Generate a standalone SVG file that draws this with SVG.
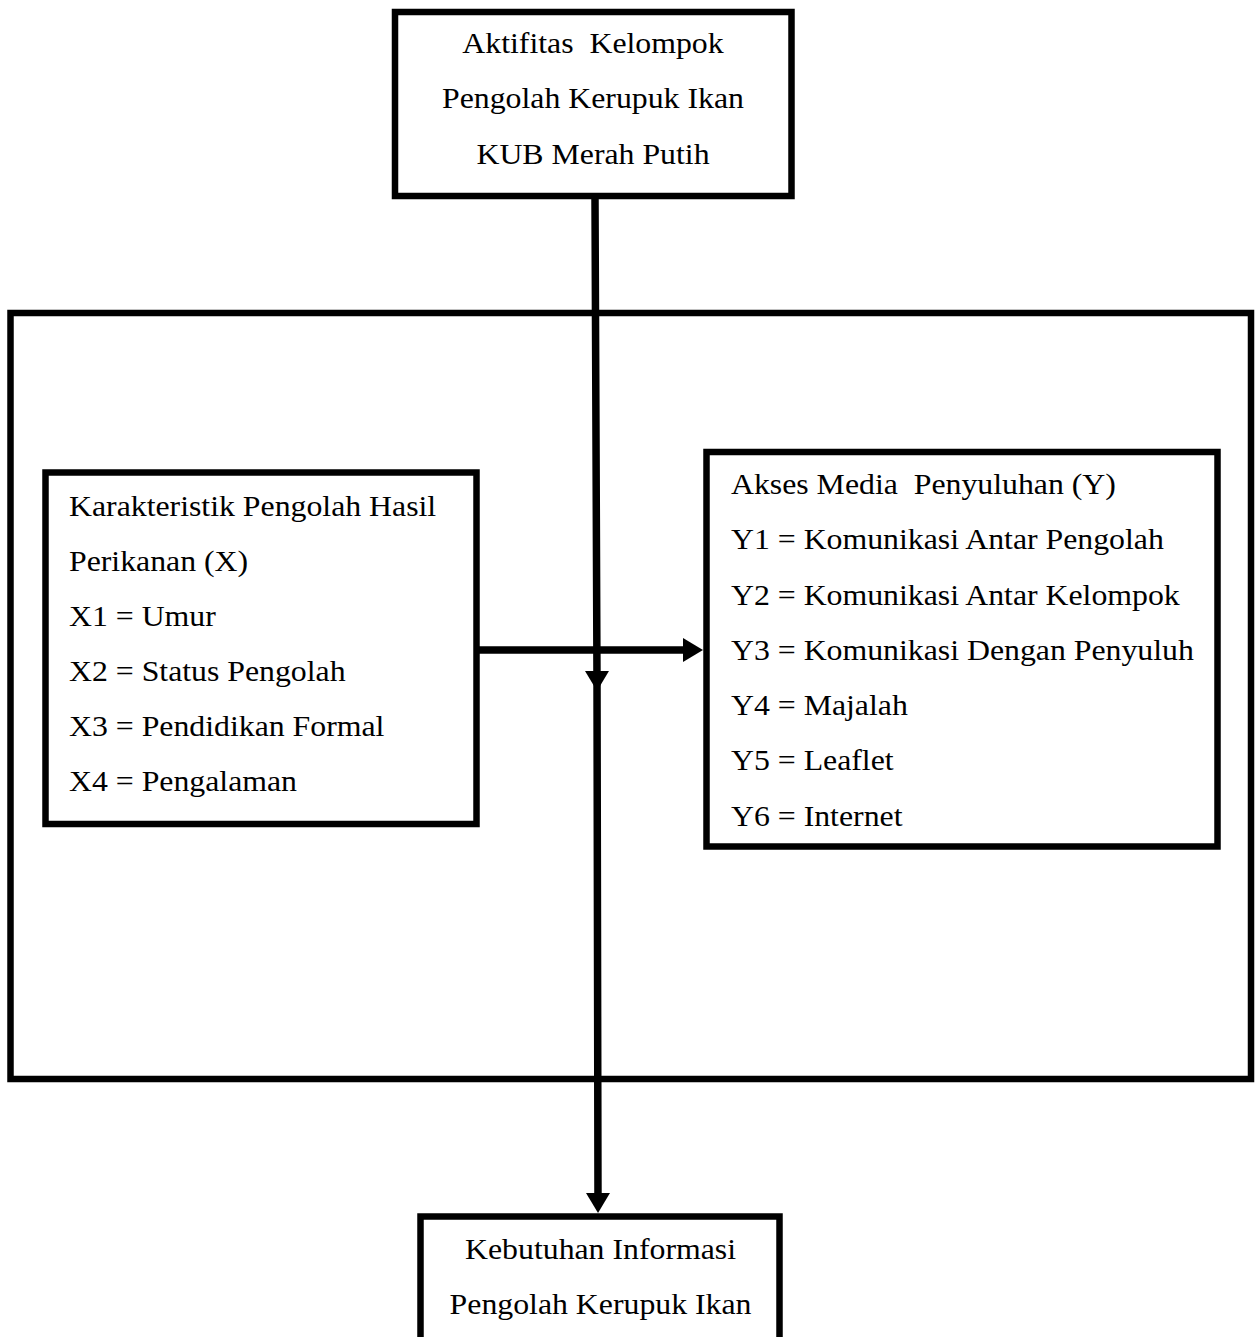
<svg xmlns="http://www.w3.org/2000/svg" width="1257" height="1337" viewBox="0 0 1257 1337">
<defs>
<style>
.box{fill:none;stroke:#000;stroke-width:6.5}
.frame{fill:none;stroke:#000;stroke-width:6.5}
.t{font-family:"Liberation Serif","Times New Roman",serif;font-size:29.5px;fill:#000;white-space:pre}
.c{text-anchor:middle}
.conn{fill:none;stroke:#000;stroke-width:7.5}
</style>
<marker id="arrow" markerUnits="userSpaceOnUse" markerWidth="20" markerHeight="24" viewBox="0 0 20 24" refX="8" refY="12" orient="auto">
<path d="M0,0 L20,12 L0,24 Z" fill="#000"/>
</marker>
</defs>
<rect width="1257" height="1337" fill="#fff"/>

<g id="node-frame">
<rect class="frame" x="10.5" y="313" width="1240.5" height="766"/>
</g>

<g id="node-aktifitas">
<rect class="box" x="395" y="12" width="396.5" height="184" fill="#fff"/>
<g transform="scale(1.078,1)">
<text class="t c" x="550.1" y="53">Aktifitas  Kelompok</text>
<text class="t c" x="550.1" y="108.5">Pengolah Kerupuk Ikan</text>
<text class="t c" x="550.1" y="164">KUB Merah Putih</text>
</g>
</g>

<g id="node-karakteristik">
<rect class="box" x="45.5" y="472.5" width="431" height="351.5"/>
<g transform="scale(1.078,1)">
<text class="t" x="64" y="516">Karakteristik Pengolah Hasil</text>
<text class="t" x="64" y="571">Perikanan (X)</text>
<text class="t" x="64" y="626">X1 = Umur</text>
<text class="t" x="64" y="681">X2 = Status Pengolah</text>
<text class="t" x="64" y="736">X3 = Pendidikan Formal</text>
<text class="t" x="64" y="791">X4 = Pengalaman</text>
</g>
</g>

<g id="node-akses">
<rect class="box" x="706.5" y="452" width="511" height="394.5"/>
<g transform="scale(1.078,1)">
<text class="t" x="678.1" y="494.5">Akses Media  Penyuluhan (Y)</text>
<text class="t" x="678.1" y="549.5">Y1 = Komunikasi Antar Pengolah</text>
<text class="t" x="678.1" y="605">Y2 = Komunikasi Antar Kelompok</text>
<text class="t" x="678.1" y="660">Y3 = Komunikasi Dengan Penyuluh</text>
<text class="t" x="678.1" y="715.5">Y4 = Majalah</text>
<text class="t" x="678.1" y="770.5">Y5 = Leaflet</text>
<text class="t" x="678.1" y="826">Y6 = Internet</text>
</g>
</g>

<g id="node-kebutuhan">
<rect class="box" x="420.5" y="1216.5" width="359" height="200" fill="#fff"/>
<g transform="scale(1.078,1)">
<text class="t c" x="557.1" y="1259">Kebutuhan Informasi</text>
<text class="t c" x="557.1" y="1314">Pengolah Kerupuk Ikan</text>
</g>
</g>

<g id="connectors">
<path class="conn" d="M595,199 L597,679 L598,1201" marker-mid="url(#arrow)" marker-end="url(#arrow)"/>
<path class="conn" d="M479,650 L691,650" marker-end="url(#arrow)"/>
</g>
</svg>
